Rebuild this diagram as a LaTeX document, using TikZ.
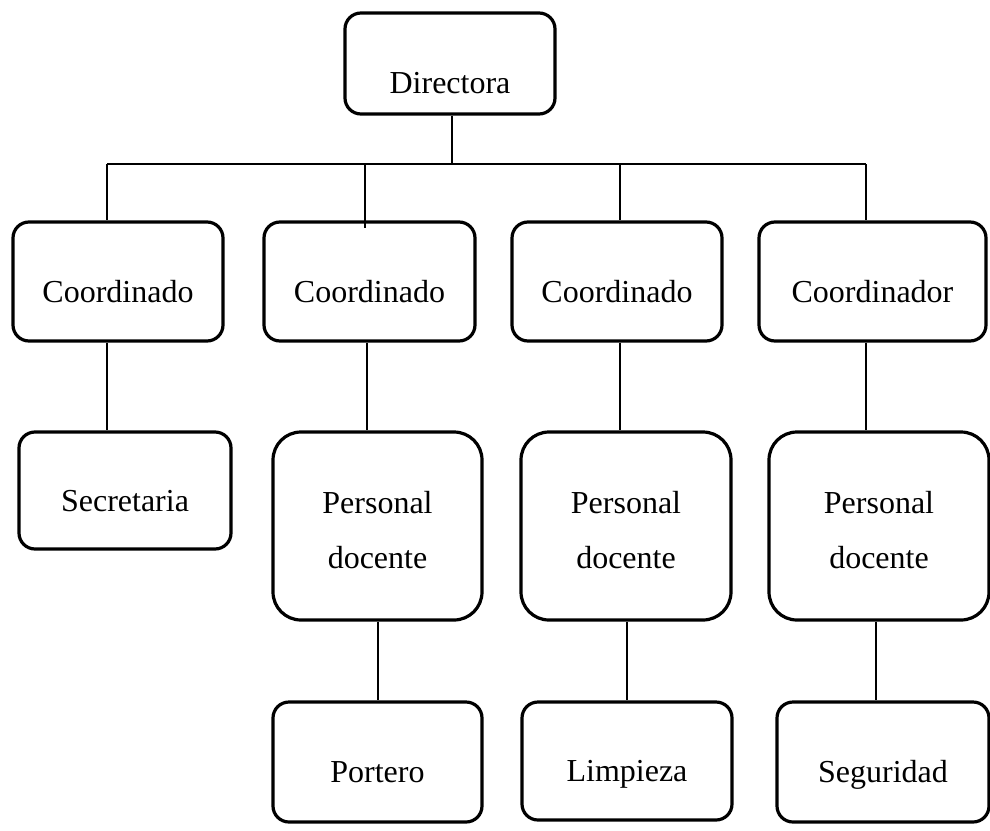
\documentclass[tikz,border=0pt]{standalone}
\usepackage{fontspec}
\setmainfont{Liberation Serif}
\usepackage{tikz}
\tikzstyle{base}=[draw,line width=1.6pt,inner sep=0pt,font=\fontsize{16}{27.5}\selectfont]
\tikzstyle{caja}=[base,rounded corners=8pt,minimum width=105pt,minimum height=59.5pt,text height=20.5pt,text depth=0pt]
\tikzstyle{cajagrande}=[base,rounded corners=14pt,minimum width=105pt,minimum height=94pt,align=center,text height=42pt,text depth=0pt]
\tikzstyle{linea}=[line width=1.4pt]
\begin{document}
\begin{tikzpicture}[x=0.5pt,y=-0.5pt]
\useasboundingbox (0,0) rectangle (990,830);
\node[caja,minimum height=50.5pt,text height=29.5pt] (dir) at (450,63.5) {Directora};
\node[caja] (c1) at (118,281.5) {Coordinado};
\node[caja,minimum width=105.5pt] (c2) at (369.5,281.5) {Coordinado};
\node[caja] (c3) at (617,281.5) {Coordinado};
\node[caja,minimum width=113.5pt] (c4) at (872.5,281.5) {Coordinador};
\node[caja,minimum width=106pt,minimum height=58.5pt] (sec) at (125,490.5) {Secretaria};
\node[cajagrande,minimum width=104.5pt] (p2) at (377.5,526) {Personal\\docente};
\node[cajagrande] (p3) at (626,526) {Personal\\docente};
\node[cajagrande,minimum width=110pt] (p4) at (879,526) {Personal\\docente};
\node[caja,minimum width=104.5pt,minimum height=60pt] (por) at (377.5,762) {Portero};
\node[caja,minimum height=59pt] (lim) at (627,761) {Limpieza};
\node[caja,minimum width=106pt,minimum height=60pt] (seg) at (883,762) {Seguridad};
\coordinate (bd) at (452,164);
\coordinate (b1) at (107,164);
\coordinate (b2) at (365,164);
\coordinate (b3) at (620,164);
\coordinate (b4) at (866,164);
\draw[linea] (dir.south -| bd)--(bd);
\draw[linea] (b1)--(b4);
\draw[linea] (b1)--(c1.north -| b1);
\draw[linea] (b2)--([yshift=-4pt]c2.north -| b2);
\draw[linea] (b3)--(c3.north -| b3);
\draw[linea] (b4)--(c4.north -| b4);
\draw[linea] (c1.south -| 107,0)--(sec.north -| 107,0);
\draw[linea] (c2.south -| 367,0)--(p2.north -| 367,0);
\draw[linea] (c3.south -| 620,0)--(p3.north -| 620,0);
\draw[linea] (c4.south -| 866,0)--(p4.north -| 866,0);
\draw[linea] (p2.south -| 378,0)--(por.north -| 378,0);
\draw[linea] (p3.south -| 627,0)--(lim.north -| 627,0);
\draw[linea] (p4.south -| 876,0)--(seg.north -| 876,0);
\end{tikzpicture}
\end{document}
